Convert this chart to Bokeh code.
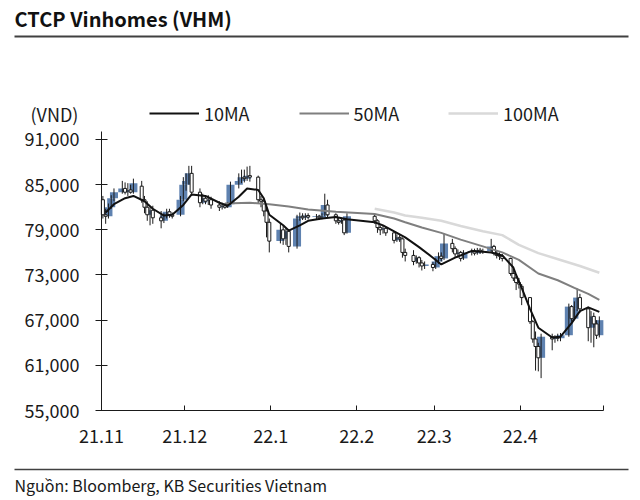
import pandas as pd
from bokeh.plotting import figure
from bokeh.models import Range1d, FixedTicker, Legend, LegendItem, ColumnDataSource
from bokeh.embed import file_html
from bokeh.resources import INLINE
from bokeh.core.properties import value

FONT = "Noto Sans CJK KR"
BLUE = "#5f82b0"
INK = "#1a1a1a"

# ---------------- data ----------------
start = pd.Timestamp("2021-11-01")
holidays = ["2022-01-03", "2022-01-31", "2022-02-01", "2022-02-02",
            "2022-02-03", "2022-02-04", "2022-04-11"]
dates = [d for d in pd.bdate_range("2021-11-01", "2022-04-29")
         if d.strftime("%Y-%m-%d") not in holidays]

# prices in thousand VND
opens = [
    # Nov
    83.0, 81.0, 80.8, 82.0, 83.2, 84.0, 84.5, 84.0, 84.3, 84.0, 84.8, 83.0, 82.0, 81.0, 81.6, 80.6, 80.2, 80.9, 81.4, 81.0, 81.0, 83.0,
    # Dec
    85.0, 85.5, 86.5, 84.0, 82.6, 83.2, 82.8, 83.0, 82.3, 82.0, 82.2, 82.0, 82.4, 85.0, 85.5, 86.0, 85.8, 86.2, 86.0, 83.0, 82.8, 81.5, 80.0,
    # Jan
    77.5, 79.0, 77.8, 78.8, 76.8, 80.5, 80.8, 80.6, 80.9, 80.7, 80.8, 80.6, 80.9, 82.3, 81.0, 80.2, 80.0, 80.3, 78.6,
    # Feb
    80.8, 80.2, 79.3, 79.0, 79.2, 78.6, 77.6, 78.0, 77.8, 76.0, 75.6, 74.8, 75.3, 74.6, 74.2, 74.4,
    # Mar
    74.0, 74.8, 75.5, 75.2, 77.2, 76.5, 75.8, 76.0, 75.2, 76.0, 76.2, 75.9, 76.3, 76.1, 76.2, 76.8, 75.9, 75.6, 75.5, 75.2, 73.2, 72.6, 72.0,
    # Apr
    71.5, 70.0, 66.8, 64.5, 63.5, 62.0, 64.8, 64.5, 64.8, 64.6, 65.0, 68.8, 67.2, 68.5, 70.0, 68.5, 66.0, 67.5, 66.5, 65.0,
]
highs = [
    83.5, 81.8, 82.5, 83.6, 84.5, 85.5, 85.3, 85.2, 85.0, 85.8, 85.5, 83.5, 82.8, 82.0, 82.2, 81.5, 81.2, 81.8, 81.8, 81.3, 83.5, 86.0,
    86.5, 87.5, 87.5, 84.5, 83.8, 83.5, 83.6, 83.4, 82.8, 82.6, 82.5, 82.7, 85.4, 86.5, 87.0, 87.0, 87.4, 87.5, 86.2, 83.5, 83.2, 82.0, 80.5,
    79.8, 79.5, 79.2, 79.0, 81.0, 81.3, 81.2, 81.2, 81.2, 81.1, 81.0, 81.2, 83.8, 83.0, 81.2, 80.6, 80.6, 80.4, 81.2,
    81.0, 80.4, 79.6, 79.6, 79.4, 78.7, 78.4, 78.3, 78.0, 76.5, 76.3, 75.6, 75.5, 75.0, 74.8, 74.7,
    75.2, 76.0, 76.0, 78.5, 77.8, 76.8, 76.4, 76.2, 76.3, 76.5, 76.5, 76.6, 76.6, 76.5, 77.8, 77.0, 76.2, 76.0, 75.8, 75.3, 73.8, 72.8, 72.6,
    71.8, 70.0, 67.0, 65.5, 64.0, 65.2, 65.2, 65.0, 65.2, 65.3, 69.2, 69.0, 69.5, 71.2, 70.5, 68.8, 68.2, 68.0, 67.0, 67.5,
]
lows = [
    80.5, 79.8, 80.5, 81.8, 82.8, 83.8, 83.7, 83.5, 83.8, 83.8, 82.6, 81.2, 80.2, 79.6, 79.8, 79.2, 79.9, 80.5, 80.6, 80.5, 80.8, 82.8,
    84.2, 85.0, 83.5, 82.0, 82.4, 82.4, 82.3, 81.8, 81.5, 81.7, 81.8, 81.9, 82.3, 84.5, 85.2, 85.3, 85.5, 85.4, 82.5, 82.0, 80.8, 78.0, 76.0,
    77.2, 77.0, 77.0, 76.0, 76.5, 80.2, 80.3, 80.3, 80.4, 80.4, 80.3, 80.4, 80.8, 80.6, 79.8, 79.7, 79.8, 78.3, 78.5,
    79.8, 78.6, 78.3, 78.5, 78.2, 77.2, 77.4, 77.4, 75.3, 74.8, 74.3, 74.5, 74.0, 73.6, 73.8, 73.5,
    73.8, 74.5, 74.8, 75.0, 76.0, 75.3, 75.3, 74.8, 75.0, 75.6, 75.6, 75.7, 75.8, 75.8, 76.0, 75.6, 75.2, 75.0, 74.8, 72.9, 72.2, 71.0, 71.2,
    69.0, 66.5, 64.0, 60.3, 60.2, 59.3, 63.0, 64.0, 64.2, 64.2, 64.8, 66.8, 67.0, 68.2, 68.0, 64.2, 64.0, 63.4, 64.5, 64.7,
]
closes = [
    81.0, 80.8, 82.0, 83.2, 84.0, 84.5, 84.0, 84.3, 84.0, 85.2, 83.0, 82.0, 81.0, 81.6, 80.6, 80.2, 80.9, 81.4, 81.0, 80.8, 83.0, 85.0,
    85.5, 86.5, 84.0, 82.6, 83.2, 82.8, 83.0, 82.3, 82.0, 82.2, 82.0, 82.4, 85.0, 85.5, 86.0, 85.8, 86.2, 86.0, 83.0, 82.8, 81.5, 80.0, 77.5,
    79.0, 77.8, 78.8, 76.8, 80.5, 80.8, 80.6, 80.9, 80.7, 80.8, 80.6, 80.9, 82.3, 81.0, 80.2, 80.0, 80.3, 78.6, 80.8,
    80.2, 79.3, 79.0, 79.2, 78.6, 77.6, 78.0, 77.8, 76.0, 75.6, 74.8, 75.3, 74.6, 74.2, 74.4, 74.0,
    74.8, 75.5, 75.2, 77.2, 76.5, 75.8, 76.0, 75.2, 76.0, 76.2, 75.9, 76.3, 76.1, 76.2, 76.8, 75.9, 75.6, 75.5, 75.2, 73.2, 72.6, 72.0, 71.8,
    70.0, 66.8, 64.5, 63.5, 62.0, 64.8, 64.5, 64.8, 64.6, 65.0, 68.8, 67.2, 68.5, 70.0, 68.5, 66.0, 67.5, 66.5, 65.0, 67.0,
]

ma10_dates = ["2021-11-02", "2021-11-05", "2021-11-09", "2021-11-12", "2021-11-16", "2021-11-19", "2021-11-23",
              "2021-11-26", "2021-11-30", "2021-12-03", "2021-12-08", "2021-12-13", "2021-12-16", "2021-12-20",
              "2021-12-23", "2021-12-27", "2021-12-29", "2021-12-31", "2022-01-05", "2022-01-07", "2022-01-11",
              "2022-01-14", "2022-01-19", "2022-01-24", "2022-01-28", "2022-02-07", "2022-02-10", "2022-02-15",
              "2022-02-18", "2022-02-23", "2022-02-28", "2022-03-03", "2022-03-08", "2022-03-14", "2022-03-18",
              "2022-03-21", "2022-03-25", "2022-03-29", "2022-03-30", "2022-04-01", "2022-04-04", "2022-04-07",
              "2022-04-12", "2022-04-15", "2022-04-19", "2022-04-22", "2022-04-25", "2022-04-29"]
ma10_vals = [81.3, 82.4, 83.2, 83.5, 82.8, 81.8, 80.9,
             81.0, 82.3, 83.7, 83.5, 82.6, 82.2, 83.4,
             84.5, 84.3, 83.2, 81.0, 79.6, 78.9, 79.6,
             80.2, 80.5, 80.7, 80.4, 80.0, 79.6, 78.6,
             78.0, 76.7, 75.3, 74.4, 75.3, 76.2, 76.1,
             76.0, 75.6, 74.0, 73.0, 71.3, 68.5, 66.0,
             64.7, 64.8, 66.6, 68.2, 68.7, 68.1]

ma50_dates = ["2021-12-15", "2021-12-24", "2021-12-31", "2022-01-07", "2022-01-14", "2022-01-24", "2022-02-07",
              "2022-02-14", "2022-02-18", "2022-02-24", "2022-03-03", "2022-03-10", "2022-03-18", "2022-03-25",
              "2022-03-31", "2022-04-07", "2022-04-14", "2022-04-20", "2022-04-25", "2022-04-29"]
ma50_vals = [82.5, 82.6, 82.4, 82.1, 81.7, 81.4, 81.1,
             80.5, 80.0, 79.3, 78.6, 77.7, 76.8, 76.0,
             75.0, 73.2, 72.3, 71.3, 70.5, 69.7]

ma100_dates = ["2022-02-07", "2022-02-14", "2022-02-18", "2022-02-24", "2022-03-03", "2022-03-10", "2022-03-18",
               "2022-03-25", "2022-03-31", "2022-04-07", "2022-04-15", "2022-04-22", "2022-04-29"]
ma100_vals = [81.8, 81.3, 80.9, 80.6, 80.2, 79.5, 78.8,
              78.3, 77.0, 75.9, 75.0, 74.2, 73.3]

month_starts = ["2021-11-01", "2021-12-01", "2022-01-01", "2022-02-01", "2022-03-01", "2022-04-01", "2022-05-01"]
month_labels = ["21.11", "21.12", "22.1", "22.2", "22.3", "22.4", ""]
y_ticks = [55, 61, 67, 73, 79, 85, 91]
y_labels = ["55,000", "61,000", "67,000", "73,000", "79,000", "85,000", "91,000"]

title_text = "CTCP Vinhomes (VHM)"
unit_text = "(VND)"
source_text = "Nguồn: Bloomberg, KB Securities Vietnam"


def dx(d):
    return (pd.Timestamp(d) - start).days


x = [dx(d) + 0.5 for d in dates]
up = [c >= o for o, c in zip(opens, closes)]
src_up = ColumnDataSource(dict(
    x=[xi for xi, u in zip(x, up) if u],
    top=[max(o, c) for o, c, u in zip(opens, closes, up) if u],
    bottom=[min(o, c) for o, c, u in zip(opens, closes, up) if u]))
src_dn = ColumnDataSource(dict(
    x=[xi for xi, u in zip(x, up) if not u],
    top=[max(o, c) for o, c, u in zip(opens, closes, up) if not u],
    bottom=[min(o, c) for o, c, u in zip(opens, closes, up) if not u]))
src_w = ColumnDataSource(dict(x=x, hi=highs, lo=lows))

# ---------------- figure: frame fills the canvas ----------------
W, H = 640, 500
X0, XS = 101.0, 2.7735     # canvas px of day 0, px per day
Y0, YS = 410.0, 7.5278     # canvas px of 55k, px per 1k


def X(px):
    return (px - X0) / XS


def Y(py):
    return 55 + (Y0 - py) / YS


p = figure(width=W, height=H, x_range=Range1d(X(0), X(W)), y_range=Range1d(Y(H), Y(0)),
           min_border=0, toolbar_location=None, output_backend="svg", title=None)
p.grid.visible = False
p.outline_line_color = None
p.background_fill_color = "white"

# candles
p.vbar(x="x", width=2.9, top="top", bottom="bottom", source=src_up,
       fill_color=BLUE, line_color=None)
p.segment(x0="x", y0="lo", x1="x", y1="hi", source=src_w, line_color=INK, line_width=1)
p.vbar(x="x", width=1.1, top="top", bottom="bottom", source=src_dn,
       fill_color="white", line_color=INK, line_width=1)

# moving averages
r100 = p.line([dx(d) + 0.5 for d in ma100_dates], ma100_vals, line_color="#d9d9d9", line_width=2.5)
r50 = p.line([dx(d) + 0.5 for d in ma50_dates], ma50_vals, line_color="#7f7f7f", line_width=2)
r10 = p.line([dx(d) + 0.5 for d in ma10_dates], ma10_vals, line_color="#111111", line_width=2)

# axes drawn at fixed data locations
xa = p.xaxis[0]
xa.fixed_location = 55
xa.bounds = (0, dx(month_starts[-1]))
xa.ticker = FixedTicker(ticks=[dx(m) for m in month_starts])
xa.major_label_overrides = {dx(m): lab for m, lab in zip(month_starts, month_labels)}
xa.major_tick_in = 5
xa.major_tick_out = 0
xa.major_label_standoff = 18

ya = p.yaxis[0]
ya.fixed_location = 0
ya.bounds = (55, Y(131))
ya.ticker = FixedTicker(ticks=y_ticks)
ya.major_label_overrides = {t: lab for t, lab in zip(y_ticks, y_labels)}
ya.major_tick_in = 6
ya.major_tick_out = 6
ya.major_label_standoff = 16

for ax in (xa, ya):
    ax.minor_tick_line_color = None
    ax.axis_line_color = INK
    ax.major_tick_line_color = INK
    ax.major_label_text_font = FONT
    ax.major_label_text_font_size = "18px"
    ax.major_label_text_color = INK

# header / footer
p.text(x=[X(14)], y=[Y(18)], text=[title_text], text_font=value(FONT), text_font_style="bold",
       text_font_size="20px", text_baseline="middle", text_color="#111111")
p.segment(x0=[X(14)], y0=[Y(36)], x1=[X(628)], y1=[Y(36)], line_color="#404040", line_width=2)
p.text(x=[X(30)], y=[Y(113)], text=[unit_text], text_font=value(FONT),
       text_font_size="18px", text_baseline="middle", text_color=INK)
p.segment(x0=[X(14)], y0=[Y(469)], x1=[X(628)], y1=[Y(469)], line_color="#404040", line_width=1.5)
p.text(x=[X(14)], y=[Y(484)], text=[source_text], text_font=value(FONT),
       text_font_size="16px", text_baseline="middle", text_color=INK)

legend = Legend(items=[LegendItem(label="10MA", renderers=[r10]),
                       LegendItem(label="50MA", renderers=[r50]),
                       LegendItem(label="100MA", renderers=[r100])],
                orientation="horizontal", location=(149, H - 126), padding=0, margin=0,
                spacing=49, glyph_width=50, glyph_height=16, label_standoff=5,
                label_height=16, label_text_font=FONT, label_text_font_size="18px",
                label_text_color=INK, border_line_alpha=0, background_fill_alpha=0)
p.add_layout(legend)

open("out.html", "w").write(file_html(p, INLINE))
